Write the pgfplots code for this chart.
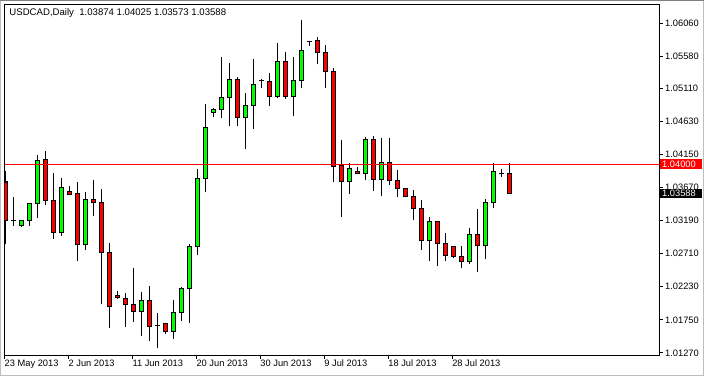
\documentclass[border=0pt]{standalone}
\usepackage{fontspec}
\setmainfont{Liberation Sans}
\usepackage{pgfplots}
\usepackage{pgfplotstable}
\pgfplotsset{compat=1.18}

\definecolor{mtgreen}{RGB}{0,255,0}
\definecolor{mtred}{RGB}{255,0,0}
\definecolor{framegray}{RGB}{190,190,190}

% bullish candles (close >= open)
\pgfplotstableread{
x o h l c
1 1.03193 1.03538 1.03110 1.03193
2 1.03124 1.03188 1.03095 1.03188
3 1.03193 1.03436 1.03110 1.03436
4 1.03436 1.04141 1.03227 1.04064
7 1.03012 1.03806 1.02964 1.03669
10 1.02837 1.03601 1.02759 1.03494
17 1.01874 1.02156 1.01519 1.02034
19 1.01665 1.01845 1.01343 1.01665
21 1.01582 1.02039 1.01475 1.01859
22 1.01859 1.02234 1.01738 1.02210
23 1.02210 1.02852 1.01708 1.02808
24 1.02808 1.03937 1.02686 1.03801
25 1.03801 1.04886 1.03606 1.04550
26 1.04764 1.04832 1.04701 1.04798
27 1.04808 1.05572 1.04686 1.04983
28 1.04983 1.05484 1.04570 1.05246
30 1.04691 1.05046 1.04234 1.04866
31 1.04866 1.05543 1.04526 1.05173
32 1.05222 1.05251 1.05124 1.05222
34 1.04998 1.05776 1.04969 1.05509
36 1.04998 1.05567 1.04716 1.05231
37 1.05231 1.06098 1.05110 1.05669
38 1.05796 1.05800 1.05728 1.05796
43 1.03757 1.04034 1.03577 1.03947
45 1.03874 1.04409 1.03786 1.04370
47 1.03786 1.04394 1.03548 1.04034
53 1.02896 1.03241 1.02599 1.03173
58 1.02604 1.03085 1.02555 1.02983
60 1.02823 1.03499 1.02628 1.03450
61 1.03450 1.04025 1.03373 1.03903
62 1.03879 1.03937 1.03830 1.03879
}\upbars

% bearish candles (close < open)
\pgfplotstableread{
x o h l c
0 1.03752 1.03913 1.02852 1.03193
5 1.04078 1.04195 1.03416 1.03480
6 1.03480 1.03879 1.02925 1.03012
8 1.03611 1.03699 1.03562 1.03577
9 1.03582 1.03747 1.02599 1.02837
11 1.03494 1.03786 1.03256 1.03450
12 1.03450 1.03655 1.01986 1.02735
13 1.02735 1.02871 1.01635 1.01947
14 1.02107 1.02171 1.02049 1.02078
15 1.02064 1.02141 1.01650 1.01976
16 1.01976 1.02506 1.01723 1.01874
18 1.02034 1.02244 1.01446 1.01655
20 1.01699 1.01699 1.01548 1.01582
29 1.05246 1.05275 1.04570 1.04691
33 1.05217 1.05338 1.04862 1.04998
35 1.05509 1.05645 1.04964 1.04993
39 1.05801 1.05859 1.05460 1.05626
40 1.05640 1.05747 1.05124 1.05363
41 1.05363 1.05411 1.03752 1.03976
42 1.03995 1.04360 1.03241 1.03757
44 1.03908 1.03971 1.03874 1.03874
46 1.04370 1.04424 1.03621 1.03786
48 1.04034 1.04394 1.03708 1.03767
49 1.03772 1.03922 1.03538 1.03655
50 1.03655 1.03669 1.03538 1.03538
51 1.03538 1.03630 1.03197 1.03363
52 1.03363 1.03484 1.02764 1.02896
54 1.03173 1.03173 1.02526 1.02852
55 1.02852 1.03017 1.02599 1.02691
56 1.02818 1.02818 1.02643 1.02677
57 1.02677 1.02828 1.02502 1.02604
59 1.02983 1.03353 1.02438 1.02823
63 1.03874 1.04025 1.03573 1.03588
}\dnbars

\pgfplotsset{
  wick/.style={draw=none, forget plot,
    error bars/.cd, y dir=plus, y explicit, error mark=none,
    error bar style={draw=black, line width=1pt}},
  bodyout/.style={draw=none, forget plot,
    error bars/.cd, y dir=plus, y explicit, error mark=none,
    error bar style={draw=black, line width=5pt}},
  bodyin/.style={draw=none, forget plot,
    error bars/.cd, y dir=plus, y explicit, error mark=none,
    error bar style={draw=#1, line width=3pt}},
}

\begin{document}
\begin{tikzpicture}[font=\fontsize{9.3pt}{11pt}\selectfont]
\useasboundingbox (0,0) rectangle (704pt,376pt);
\fill[white] (0,0) rectangle (704pt,376pt);
\begin{axis}[
  at={(4.5pt,20.5pt)}, anchor=south west,
  scale only axis, width=655pt, height=351pt,
  xmin=-0.15, xmax=81.79, ymin=1.01232, ymax=1.06330,
  axis line style={black, line width=1pt},
  tick align=outside, major tick length=3pt,
  tick style={black, line width=1pt},
  xtick pos=left, ytick pos=right, yticklabel pos=right,
  xtick={-0.09,7.91,15.91,23.91,31.91,39.91,47.91,55.91},
  xticklabels={23 May 2013,2 Jun 2013,11 Jun 2013,20 Jun 2013,30 Jun 2013,9 Jul 2013,18 Jul 2013,28 Jul 2013},
  xticklabel style={anchor=north west, inner sep=0pt, xshift=-0.5pt, yshift=-1.5pt},
  ytick={1.0127,1.0175,1.0223,1.0271,1.0319,1.0367,1.0415,1.0463,1.0511,1.0558,1.0606},
  scaled y ticks=false,
  /pgf/number format/assume math mode=true,
  yticklabel={\pgfmathprintnumber[fixed,fixed zerofill,precision=5]{\tick}},
  yticklabel style={anchor=west, inner sep=0pt, xshift=2.5pt},
]
% wicks
\addplot[wick] table[x=x, y=l, y error plus expr=\thisrow{h}-\thisrow{l}] {\upbars};
\addplot[wick] table[x=x, y=l, y error plus expr=\thisrow{h}-\thisrow{l}] {\dnbars};
% body outlines
\addplot[bodyout] table[x=x, y expr={min(\thisrow{o},\thisrow{c})-0.0000726},
  y error plus expr={abs(\thisrow{c}-\thisrow{o})+0.0001452}] {\upbars};
\addplot[bodyout] table[x=x, y expr={min(\thisrow{o},\thisrow{c})-0.0000726},
  y error plus expr={abs(\thisrow{c}-\thisrow{o})+0.0001452}] {\dnbars};
% body fills
\addplot[bodyin=mtgreen] table[x=x, y expr={min(\thisrow{o},\thisrow{c})+0.0000726},
  y error plus expr={max(abs(\thisrow{c}-\thisrow{o})-0.0001452,0)}] {\upbars};
\addplot[bodyin=mtred] table[x=x, y expr={min(\thisrow{o},\thisrow{c})+0.0000726},
  y error plus expr={max(abs(\thisrow{c}-\thisrow{o})-0.0001452,0)}] {\dnbars};
% price level line
\addplot[mtred, line width=1pt, forget plot] coordinates {(-1,1.04000) (90,1.04000)};
\node[anchor=west, inner sep=0pt, font=\fontsize{9.6pt}{11pt}\selectfont] at (rel axis cs:0.0073,0.976) {USDCAD,Daily\ \ 1.03874 1.04025 1.03573 1.03588};
\coordinate (pl) at (axis cs:81.79,1.04000);
\coordinate (pc) at (axis cs:81.79,1.03588);
\end{axis}
\fill[mtred] ([xshift=0.5pt,yshift=-3.75pt]pl) rectangle ([xshift=42.5pt,yshift=5.75pt]pl);
\node[anchor=west, inner sep=0pt, text=white] at ([xshift=2.5pt,yshift=1pt]pl) {1.04000};
\fill[black] ([xshift=0.5pt,yshift=-4.75pt]pc) rectangle ([xshift=42.5pt,yshift=4.75pt]pc);
\node[anchor=west, inner sep=0pt, text=white] at ([xshift=2.5pt]pc) {1.03588};
% outer window frame
\draw[framegray, line width=1pt] (0.5pt,0.5pt) rectangle (703.5pt,375.5pt);
\draw[gray, line width=1pt] (0pt,375.5pt) -- (704pt,375.5pt);
\end{tikzpicture}
\end{document}
